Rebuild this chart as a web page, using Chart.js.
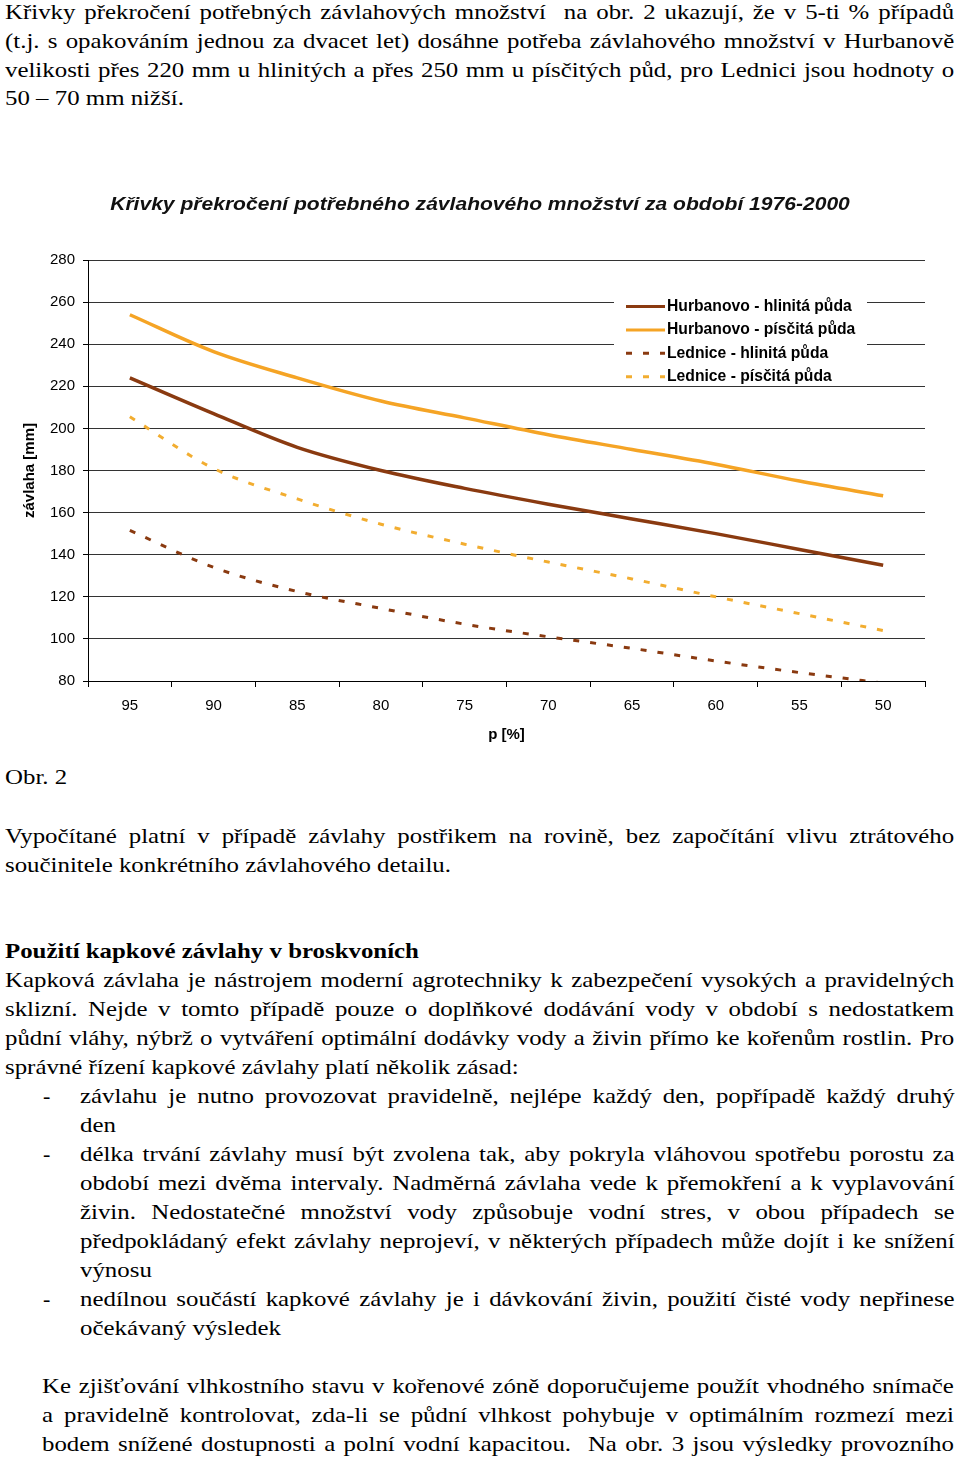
<!DOCTYPE html>
<html lang="cs">
<head>
<meta charset="utf-8">
<title>Křivky překročení potřebného závlahového množství</title>
<script src="https://cdn.jsdelivr.net/npm/chart.js@4.4.1/dist/chart.umd.min.js"></script>
<style>
  body {
    margin: 0;
    background: #fff;
    width: 960px;
    height: 1460px;
    position: relative;
    overflow: hidden;
    font-family: "Liberation Serif", "Times New Roman", serif;
    font-size: 22px;
    color: #000;
  }
  /* the scanned page text is a bit wider than plain Times, so stretch it */
  .ln {
    position: absolute; left: 5px; width: 840px;
    line-height: 29px; height: 29px;
    transform: scaleX(1.13); transform-origin: 0 0;
  }
  .j { text-align: justify; text-align-last: justify; }
  .li { left: 80px; width: 774px; }
  .ind { left: 42px; width: 807px; }
  .dash { position: absolute; left: 43px; line-height: 29px; }
  .b { font-weight: bold; }
  #chartBox { position: absolute; left: 0; top: 180px; width: 960px; height: 580px; }
</style>
</head>
<body>

<div class="ln j" style="top:-3px">Křivky překročení potřebných závlahových množství&nbsp; na obr. 2 ukazují, že v 5-ti % případů</div>
<div class="ln j" style="top:26px">(t.j. s opakováním jednou za dvacet let) dosáhne potřeba závlahového množství v Hurbanově</div>
<div class="ln j" style="top:55px">velikosti přes 220 mm u hlinitých a přes 250 mm u písčitých půd, pro Lednici jsou hodnoty o</div>
<div class="ln" style="top:83px">50 – 70 mm nižší.</div>

<div id="chartBox"><canvas id="chart"></canvas></div>

<div class="ln" style="top:762px">Obr. 2</div>

<div class="ln j" style="top:821px">Vypočítané platní v případě závlahy postřikem na rovině, bez započítání vlivu ztrátového</div>
<div class="ln" style="top:850px">součinitele konkrétního závlahového detailu.</div>

<div class="ln b" style="top:936px">Použití kapkové závlahy v broskvoních</div>
<div class="ln j" style="top:965px">Kapková závlaha je nástrojem moderní agrotechniky k zabezpečení vysokých a pravidelných</div>
<div class="ln j" style="top:994px">sklizní. Nejde v tomto případě pouze o doplňkové dodávání vody v období s nedostatkem</div>
<div class="ln j" style="top:1023px">půdní vláhy, nýbrž o vytváření optimální dodávky vody a živin přímo ke kořenům rostlin. Pro</div>
<div class="ln" style="top:1052px">správné řízení kapkové závlahy platí několik zásad:</div>

<div class="dash" style="top:1081px">-</div>
<div class="ln li j" style="top:1081px">závlahu je nutno provozovat pravidelně, nejlépe každý den, popřípadě každý druhý</div>
<div class="ln li" style="top:1110px">den</div>
<div class="dash" style="top:1139px">-</div>
<div class="ln li j" style="top:1139px">délka trvání závlahy musí být zvolena tak, aby pokryla vláhovou spotřebu porostu za</div>
<div class="ln li j" style="top:1168px">období mezi dvěma intervaly. Nadměrná závlaha vede k přemokření a k vyplavování</div>
<div class="ln li j" style="top:1197px">živin. Nedostatečné množství vody způsobuje vodní stres, v obou případech se</div>
<div class="ln li j" style="top:1226px">předpokládaný efekt závlahy neprojeví, v některých případech může dojít i ke snížení</div>
<div class="ln li" style="top:1255px">výnosu</div>
<div class="dash" style="top:1284px">-</div>
<div class="ln li j" style="top:1284px">nedílnou součástí kapkové závlahy je i dávkování živin, použití čisté vody nepřinese</div>
<div class="ln li" style="top:1313px">očekávaný výsledek</div>

<div class="ln ind j" style="top:1371px">Ke zjišťování vlhkostního stavu v kořenové zóně doporučujeme použít vhodného snímače</div>
<div class="ln ind j" style="top:1400px">a pravidelně kontrolovat, zda-li se půdní vlhkost pohybuje v optimálním rozmezí mezi</div>
<div class="ln ind j" style="top:1429px">bodem snížené dostupnosti a polní vodní kapacitou.&nbsp; Na obr. 3 jsou výsledky provozního</div>

<script>
const pLabels = [95, 90, 85, 80, 75, 70, 65, 60, 55, 50];
const hurbanovoHlinita = [224, 207, 191, 180, 171.5, 164, 157, 150, 142.5, 135];
const hurbanovoPiscita = [254, 236.5, 224, 213, 205, 197, 190, 183, 175, 168];
const ledniceHlinita = [151.5, 134, 122.5, 114.5, 107, 101, 95.5, 89.5, 84, 79];
const lednicePiscita = [205.5, 181, 166.5, 154.5, 145, 136.5, 128.5, 120, 112, 104];
const seriesNames = [
    'Hurbanovo - hlinitá půda',
    'Hurbanovo - písčitá půda',
    'Lednice - hlinitá půda',
    'Lednice - písčitá půda'
];
const yTickValues = [80, 100, 120, 140, 160, 180, 200, 220, 240, 260, 280];
const chartTitle = 'Křivky překročení potřebného závlahového množství za období 1976-2000';

const BROWN = '#8a3a10';
const ORANGE = '#f5a425';
const ORANGE_DASH = '#f2ad30';
const SANS = '"Liberation Sans", Arial, sans-serif';

// tick marks on the x axis sit between the labels
const xBounds = pLabels.map(p => p + 2.5).concat([pLabels[pLabels.length - 1] - 2.5]);

function toPoints(arr) {
    return pLabels.map((p, i) => ({ x: p, y: arr[i] }));
}

// the original title is a bit wider than Arial, so draw it stretched
const stretchedTitle = {
    id: 'stretchedTitle',
    afterDraw(chart, args, opts) {
        const c = chart.ctx;
        c.save();
        c.font = opts.font;
        c.fillStyle = opts.color;
        c.textAlign = 'center';
        c.textBaseline = 'middle';
        c.translate(chart.width / 2, opts.y);
        c.scale(opts.stretch, 1);
        c.fillText(opts.text, 0, 0);
        c.restore();
    }
};

// legend drawn inside the plot on a white box, like the original
const boxLegend = {
    id: 'boxLegend',
    afterDraw(chart) {
        const c = chart.ctx;
        const a = chart.chartArea;
        const bx = a.left + 526, by = a.top + 30;
        c.save();
        c.fillStyle = '#fff';
        c.fillRect(bx, by, 253, 94);
        c.font = 'bold 15.7px ' + SANS;
        c.textBaseline = 'middle';
        chart.data.datasets.forEach((ds, i) => {
            const y = by + 16.5 + i * 23.4;
            c.beginPath();
            c.strokeStyle = ds.borderColor;
            c.lineWidth = 3;
            c.setLineDash(ds.borderDash || []);
            c.moveTo(bx + 12, y);
            c.lineTo(bx + 51, y);
            c.stroke();
            c.setLineDash([]);
            c.fillStyle = '#000';
            c.fillText(ds.label, bx + 53, y);
        });
        c.restore();
    }
};

const ctx = document.getElementById('chart').getContext('2d');
const chart = new Chart(ctx, {
    type: 'line',
    data: {
        datasets: [
            { label: seriesNames[0], data: toPoints(hurbanovoHlinita), borderColor: BROWN, borderWidth: 3.5 },
            { label: seriesNames[1], data: toPoints(hurbanovoPiscita), borderColor: ORANGE, borderWidth: 3.5 },
            { label: seriesNames[2], data: toPoints(ledniceHlinita), borderColor: BROWN, borderWidth: 3, borderDash: [6, 11] },
            { label: seriesNames[3], data: toPoints(lednicePiscita), borderColor: ORANGE_DASH, borderWidth: 3, borderDash: [6, 11] }
        ]
    },
    options: {
        responsive: true,
        maintainAspectRatio: false,
        animation: false,
        elements: {
            point: { radius: 0 },
            line: { cubicInterpolationMode: 'monotone', fill: false }
        },
        layout: { padding: { left: 0, right: 35, top: 80, bottom: 0 } },
        plugins: {
            legend: { display: false },
            tooltip: { enabled: false },
            title: { display: false },
            stretchedTitle: {
                text: chartTitle,
                font: 'italic bold 18px ' + SANS,
                color: '#111',
                y: 25,
                stretch: 1.17
            }
        },
        scales: {
            x: {
                type: 'linear',
                reverse: true,
                min: 47.5,
                max: 97.5,
                afterBuildTicks: s => { s.ticks = xBounds.concat(pLabels).sort((a, b) => a - b).map(v => ({ value: v })); },
                afterFit: s => { s.height = 79; },
                ticks: {
                    autoSkip: false,
                    maxRotation: 0,
                    padding: 10,
                    color: '#000',
                    font: { family: SANS, size: 15 },
                    callback: v => pLabels.includes(v) ? String(v) : ''
                },
                grid: {
                    drawOnChartArea: false,
                    tickLength: 6,
                    tickColor: c => (c.tick && pLabels.includes(c.tick.value)) ? 'rgba(0,0,0,0)' : '#000'
                },
                border: { display: true, color: '#000', width: 1 },
                title: {
                    display: true,
                    text: 'p [%]',
                    color: '#000',
                    font: { family: SANS, size: 15, weight: 'bold' },
                    padding: { top: 16, bottom: 16 }
                }
            },
            y: {
                min: 80,
                max: 280,
                afterBuildTicks: s => { s.ticks = yTickValues.map(v => ({ value: v })); },
                afterFit: s => { s.width = 88; },
                ticks: {
                    padding: 8,
                    color: '#000',
                    font: { family: SANS, size: 15 }
                },
                grid: { color: '#333', lineWidth: 1, tickLength: 5, tickColor: '#000' },
                border: { display: true, color: '#000', width: 1 },
                title: {
                    display: true,
                    text: 'závlaha [mm]',
                    color: '#000',
                    font: { family: SANS, size: 15, weight: 'bold' },
                    padding: { top: 21, bottom: 21 }
                }
            }
        }
    },
    plugins: [stretchedTitle, boxLegend]
});
</script>
</body>
</html>
